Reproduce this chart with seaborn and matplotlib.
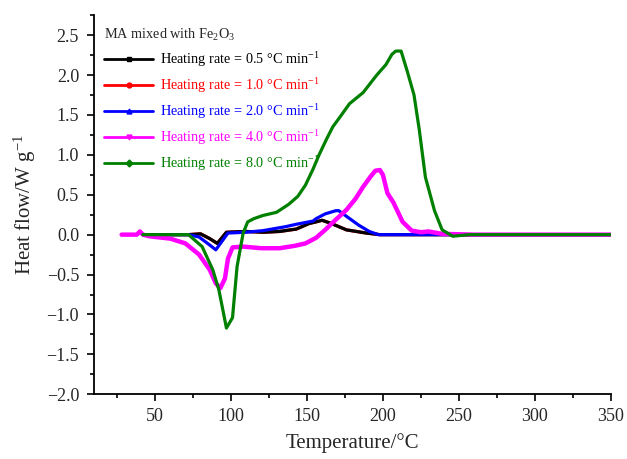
import numpy as np
import pandas as pd
import matplotlib
matplotlib.use("Agg")
import matplotlib.pyplot as plt
from matplotlib.lines import Line2D
from matplotlib.ticker import MultipleLocator, FuncFormatter
import seaborn as sns

# ---- data ----
t_black = [42, 60, 72, 80, 86, 91, 97, 110, 121, 132, 143, 151.5, 156, 160, 166, 176, 189, 198, 220, 260, 300, 350]
v_black = [0, 0, 0, 0.01, -0.05, -0.11, 0.03, 0.04, 0.03, 0.04, 0.07, 0.14, 0.16, 0.18, 0.14, 0.06, 0.02, 0, 0, 0, 0, 0]

t_red = [42, 60, 72, 80, 86, 91, 97, 110, 121, 132, 143, 151.5, 156, 160, 166, 176, 189, 198, 220, 260, 300, 350]
v_red = [0, 0, 0, 0.01, -0.05, -0.11, 0.03, 0.04, 0.03, 0.04, 0.07, 0.14, 0.16, 0.18, 0.14, 0.06, 0.02, 0, 0, 0, 0, 0]

t_blue = [42, 60, 72, 79, 86, 90, 98, 110, 121, 136, 143, 154, 156, 162, 169, 171, 176, 184, 191, 197, 240, 300, 350]
v_blue = [0, 0, 0, -0.03, -0.13, -0.19, 0.02, 0.03, 0.05, 0.10, 0.13, 0.17, 0.20, 0.26, 0.30, 0.30, 0.23, 0.12, 0.04, 0.0, 0, 0, 0]

t_mag = [28, 38, 40, 42, 46, 60, 70, 79, 86, 90, 93, 96, 98, 101, 108, 120, 132, 142, 149, 156, 162, 168, 176, 182,
         187, 192, 195, 198, 200, 203, 207, 210, 213, 219, 225, 230, 239, 260, 350]
v_mag = [0, 0, 0.04, 0, -0.02, -0.05, -0.11, -0.25, -0.44, -0.61, -0.67, -0.55, -0.30, -0.16, -0.15, -0.17, -0.17,
         -0.14, -0.11, -0.04, 0.06, 0.17, 0.31, 0.45, 0.60, 0.73, 0.80, 0.81, 0.75, 0.52, 0.40, 0.28, 0.16, 0.05,
         0.03, 0.04, 0.01, 0, 0]

t_green = [42, 60, 72, 81, 88, 92, 97, 101, 104, 108, 111, 115, 121, 130, 138, 144, 149, 154, 158, 163, 167, 172,
           178, 187, 196, 202, 206, 208.5, 212, 216, 220.5, 224, 228, 234, 239, 246, 257, 300, 350]
v_green = [0, 0, 0, -0.15, -0.44, -0.69, -1.17, -1.04, -0.40, 0.02, 0.16, 0.20, 0.24, 0.28, 0.38, 0.48, 0.62, 0.82,
           1.00, 1.20, 1.35, 1.48, 1.64, 1.78, 2.00, 2.13, 2.26, 2.30, 2.30, 2.05, 1.75, 1.31, 0.72, 0.30, 0.06,
           -0.02, 0, 0, 0]

x_ticks = [50, 100, 150, 200, 250, 300, 350]
labels = ["Heating rate = 0.5 \u00b0C min$^{-1}$",
          "Heating rate = 1.0 \u00b0C min$^{-1}$",
          "Heating rate = 2.0 \u00b0C min$^{-1}$",
          "Heating rate = 4.0 \u00b0C min$^{-1}$",
          "Heating rate = 8.0 \u00b0C min$^{-1}$"]
colors = ["#000000", "#ff0000", "#0000ff", "#ff00ff", "#008000"]
markers = ["s", "o", "^", "v", "D"]

series = [(t_black, v_black), (t_red, v_red), (t_blue, v_blue), (t_mag, v_mag), (t_green, v_green)]
widths = [2.3, 2.3, 2.3, 3.2, 2.3]
draw_order = [1, 0, 2, 3, 4]

sns.set_style("ticks")
plt.rcParams["font.family"] = ["Liberation Serif", "DejaVu Serif"]
plt.rcParams["mathtext.fontset"] = "custom"
plt.rcParams["mathtext.rm"] = "Liberation Serif"
plt.rcParams["mathtext.it"] = "Liberation Serif:italic"
plt.rcParams["axes.unicode_minus"] = True

fig = plt.figure(figsize=(6.27, 4.59), dpi=100)
ax = fig.add_axes([0.1504, 0.141, 0.8236, 0.826])

for i in draw_order:
    t, v = series[i]
    df = pd.DataFrame({"T": t, "v": v})
    sns.lineplot(data=df, x="T", y="v", ax=ax, color=colors[i], lw=widths[i],
                 sort=False, estimator=None, legend=False)

ax.set_xlim(10, 350)
ax.set_ylim(-2.0, 2.75)
ax.set_xticks(x_ticks)
ax.xaxis.set_minor_locator(MultipleLocator(25))
ax.yaxis.set_major_locator(MultipleLocator(0.5))
ax.yaxis.set_minor_locator(MultipleLocator(0.25))
ax.yaxis.set_major_formatter(FuncFormatter(lambda v, p: f"{v:.1f}".replace("-", "\u2212")))
ax.tick_params(axis="both", which="major", length=5, width=1.2, labelsize=13, direction="out",
               color="black", pad=5)
ax.tick_params(axis="y", which="major", pad=6)
ax.tick_params(axis="both", which="minor", length=3, width=1.2, direction="out", color="black")
for s in ["left", "bottom"]:
    ax.spines[s].set_linewidth(1.3)
    ax.spines[s].set_color("black")
sns.despine(ax=ax)

ax.set_xlabel("Temperature/\u00b0C", fontsize=15, labelpad=6)
ax.set_ylabel("Heat flow/W g$^{-1}$", fontsize=15, labelpad=6)

handles = [Line2D([0], [0], color=colors[i], lw=2, marker=markers[i], markersize=3.5)
           for i in range(5)]
leg = ax.legend(handles, labels, loc="upper left", bbox_to_anchor=(0.0, 0.995), frameon=False,
                fontsize=10.3, title="MA mixed with Fe$_2$O$_3$", title_fontsize=10.3,
                handlelength=3.4, labelspacing=0.5, labelcolor="linecolor",
                alignment="left", borderaxespad=0.3, handletextpad=0.5)

fig.savefig("out.png", dpi=100)
